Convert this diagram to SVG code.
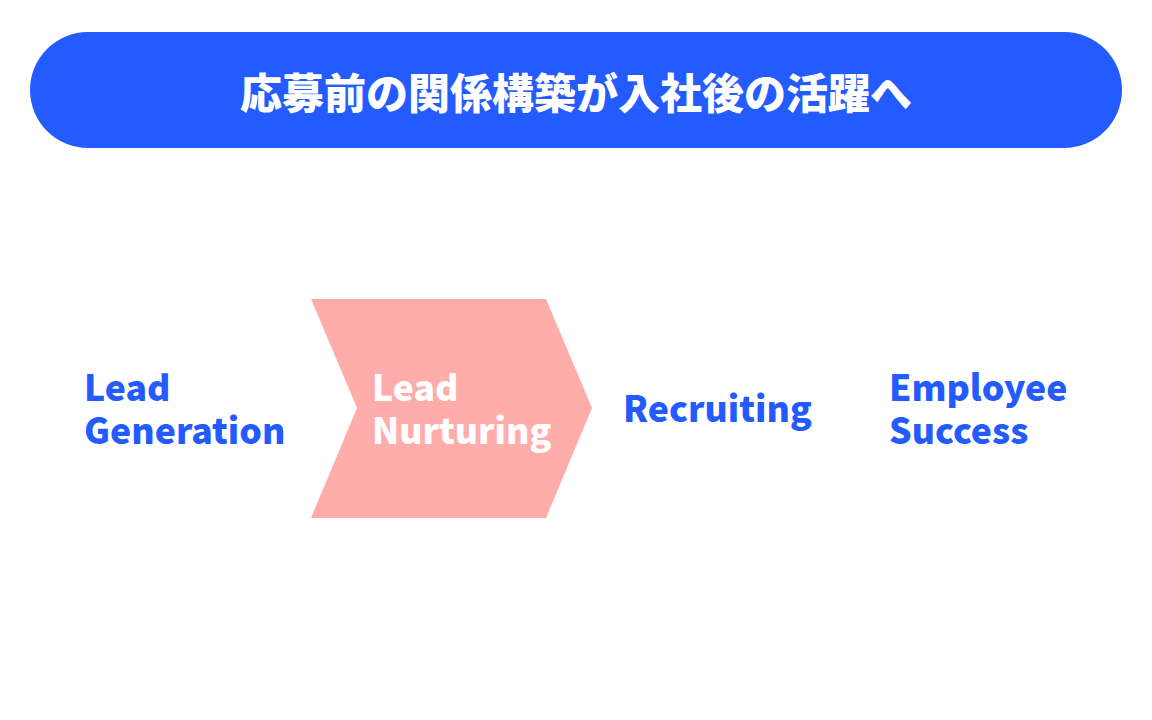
<svg xmlns="http://www.w3.org/2000/svg" width="1152" height="720" viewBox="0 0 1152 720">
<style>
.t{font-family:"Noto Sans CJK JP","Noto Sans",sans-serif;font-weight:900;font-size:35.6px}
.blue{fill:#235BFF}
.white{fill:#FFFFFF}
</style>
<rect width="1152" height="720" fill="#FFFFFF"/>
<g id="header">
<rect x="30" y="32" width="1092" height="116" rx="58" fill="#235BFF"/>
<text x="576" y="109" text-anchor="middle" class="t white" style="font-size:42px">応募前の関係構築が入社後の活躍へ</text>
</g>
<g id="connectors"></g>
<g id="lead-generation">
<text class="t blue" x="84" y="401">Lead</text>
<text class="t blue" x="84" y="444">Generation</text>
</g>
<g id="lead-nurturing">
<polygon points="311,299 546,299 592,408 546,518 311,518 357,408" fill="#FFADAA"/>
<text class="t white" x="372" y="401">Lead</text>
<text class="t white" x="372" y="444">Nurturing</text>
</g>
<g id="recruiting">
<text class="t blue" x="623" y="422">Recruiting</text>
</g>
<g id="employee-success">
<text class="t blue" x="889" y="401">Employee</text>
<text class="t blue" x="889" y="444">Success</text>
</g>
</svg>
